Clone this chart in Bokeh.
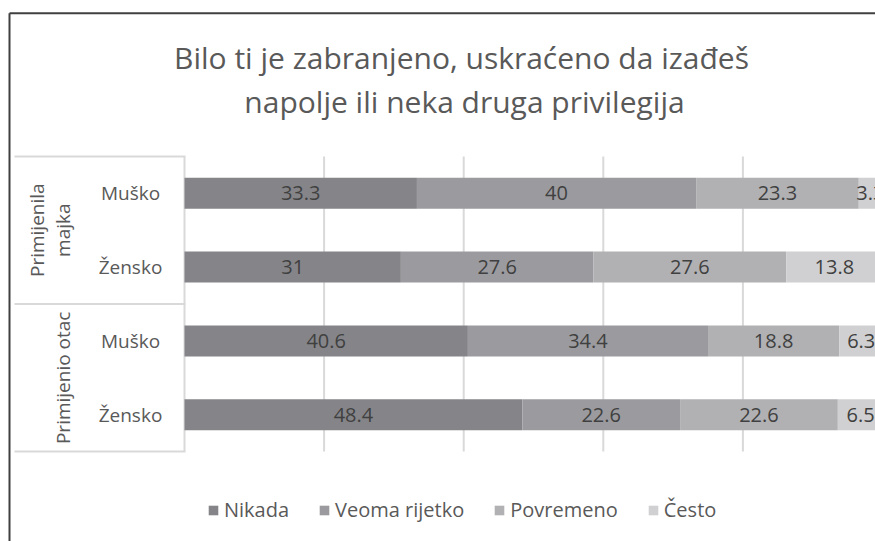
import math
import numpy as np
from bokeh.plotting import figure
from bokeh.models import Range1d, ColumnDataSource, Legend, LegendItem
from bokeh.core.properties import value
from bokeh.embed import file_html
from bokeh.resources import INLINE

# ---------------- data ----------------
title_lines = ["Bilo ti je zabranjeno, uskraćeno da izađeš",
               "napolje ili neka druga privilegija"]
group_lines = [["Primijenila", "majka"], ["Primijenio otac"]]
subcats = ["Muško", "Žensko", "Muško", "Žensko"]
series = ["Nikada", "Veoma rijetko", "Povremeno", "Često"]
nikada = [33.3, 31, 40.6, 48.4]
veoma_rijetko = [40, 27.6, 34.4, 22.6]
povremeno = [23.3, 27.6, 18.8, 22.6]
cesto = [3.3, 13.8, 6.3, 6.5]
grid_ticks = [0, 20, 40, 60, 80]

# ---------------- style / layout ----------------
colors = ["#858589", "#9b9b9f", "#b1b1b4", "#d0d0d2"]
FONT = "Open Sans"
W, H = 875, 541
PAGE = 0                 # figure's page offset
X0, PXU = 184.0, 6.98    # page px of value 0 ; px per percent
Y0, PXR = 192.8, 73.8    # page px of first row centre ; px per row


def xd(px):
    return (px - X0) / PXU


def yd(py):
    return (py - Y0) / PXR


p = figure(width=W, height=H,
           x_range=Range1d(xd(PAGE), xd(PAGE + W)),
           y_range=Range1d(yd(PAGE + H), yd(PAGE)),
           output_backend="svg", toolbar_location=None, min_border=0,
           x_axis_location=None, y_axis_location=None)
for g in p.grid:
    g.visible = False
p.outline_line_color = None
p.background_fill_color = "white"
p.border_fill_color = "white"

rows = list(range(len(subcats)))
top_edge = rows[0] - 0.5
bottom_edge = rows[-1] + 0.5

# vertical gridlines (behind bars)
p.segment(x0=grid_ticks, x1=grid_ticks, y0=top_edge, y1=bottom_edge,
          line_color="#d9d9d9", line_width=2)

# stacked bars
vals = np.array([nikada, veoma_rijetko, povremeno, cesto])
lefts = np.vstack([np.zeros(len(rows)), np.cumsum(vals, axis=0)[:-1]])
renderers = []
for i, name in enumerate(series):
    src = ColumnDataSource(dict(y=rows, left=lefts[i], right=lefts[i] + vals[i]))
    r = p.hbar(y="y", left="left", right="right", height=0.42, source=src,
               fill_color=colors[i], line_color=None)
    renderers.append(r)

# data labels
lx, ly, lt = [], [], []
for i in range(len(series)):
    for j in rows:
        lx.append(lefts[i][j] + vals[i][j] / 2)
        ly.append(j)
        lt.append(f"{vals[i][j]:g}")
p.text(x=lx, y=ly, text=lt, text_font=value(FONT), text_font_size="20px",
       text_color="#404040", text_align="center", text_baseline="middle")

# category table lines
sep_y = [top_edge, rows[1] + 0.5, bottom_edge]
p.segment(x0=[xd(14)] * 3, x1=[xd(185)] * 3, y0=sep_y, y1=sep_y,
          line_color="#d9d9d9", line_width=2)

# sub category labels
p.text(x=[xd(130)] * len(rows), y=rows, text=subcats, text_font=value(FONT),
       text_font_size="19px", text_color="#595959", text_align="center",
       text_baseline="middle")

# group labels (rotated)
gx, gy, gt = [], [], []
for k, lines in enumerate(group_lines):
    centre = rows[2 * k] + 0.5
    xs = [36, 62] if len(lines) == 2 else [62]
    for xpx, t in zip(xs, lines):
        gx.append(xd(xpx))
        gy.append(centre)
        gt.append(t)
p.text(x=gx, y=gy, text=gt, angle=math.pi / 2, text_font=value(FONT),
       text_font_size="19px", text_color="#595959", text_align="center",
       text_baseline="middle")

# title
p.text(x=[xd(461), xd(464)], y=[yd(57), yd(101)], text=title_lines,
       text_font=value(FONT), text_font_size="30px", text_color="#595959",
       text_align="center", text_baseline="middle")

# outer chart border (left and top, the rest is cropped)
p.segment(x0=[xd(9), xd(9)], y0=[yd(12.7), yd(12.7)],
          x1=[xd(9), xd(PAGE + W)], y1=[yd(PAGE + H), yd(12.7)],
          line_color="#404040", line_width=2)

legend = Legend(items=[LegendItem(label=s, renderers=[r]) for s, r in zip(series, renderers)],
                orientation="horizontal", location=(207, 18), padding=0, margin=0,
                spacing=29, label_standoff=5, glyph_width=12, glyph_height=12,
                label_height=20, label_text_font=FONT, label_text_font_size="20px",
                label_text_color="#595959", border_line_color=None,
                background_fill_alpha=0)
p.add_layout(legend)

open("out.html", "w").write(file_html(p, INLINE))
